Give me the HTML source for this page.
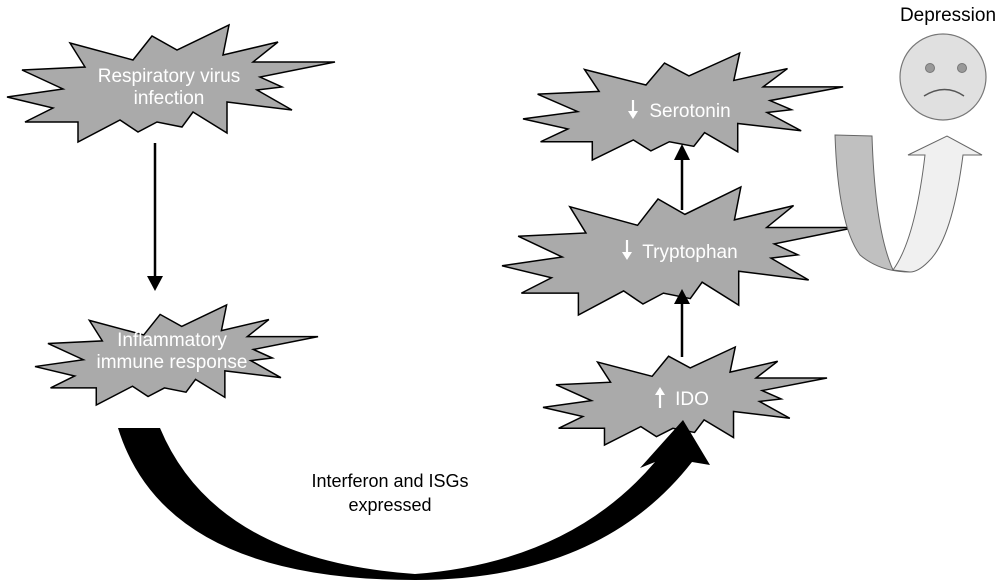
<!DOCTYPE html>
<html><head><style>
html,body{margin:0;padding:0;background:#fff;}
svg{display:block;font-family:"Liberation Sans",Arial,sans-serif;}
</style></head><body>
<svg width="1004" height="580" viewBox="0 0 1004 580">
<defs>
<polygon id="star" points="7,97 63,89 22,70 85,67 70,43 133,60 152,36 177,50 229,25 223,55 278,42 253,62 335,62 260,77 282,87 257,90 292,110 227,102 227,133 193,112 182,127 157,122 138,132 120,120 78,142 78,122 25,122 53,108" fill="#aaaaaa" stroke="#000" stroke-width="1.5" vector-effect="non-scaling-stroke"/>
</defs>
<use href="#star"/>
<use href="#star" transform="translate(35,305) scale(0.863,0.855) translate(-7,-25)"/>
<use href="#star" transform="translate(523,53) scale(0.976,0.915) translate(-7,-25)"/>
<use href="#star" transform="translate(502,187) scale(1.076,1.094) translate(-7,-25)"/>
<use href="#star" transform="translate(543,347) scale(0.866,0.838) translate(-7,-25)"/>

<g fill="#fff" font-size="19" text-anchor="middle">
<text x="169" y="82">Respiratory virus</text>
<text x="169" y="104">infection</text>
<text x="172" y="346">Inflammatory</text>
<text x="172" y="368">immune response</text>
<text x="690" y="117">Serotonin</text>
<text x="690" y="258">Tryptophan</text>
<text x="692" y="405">IDO</text>
</g>
<g stroke="#fff" stroke-width="2.2" fill="#fff">
<line x1="633" y1="100" x2="633" y2="114"/><polygon points="628,111 638,111 633,119" stroke="none"/>
<line x1="627" y1="240" x2="627" y2="255"/><polygon points="622,252 632,252 627,260" stroke="none"/>
<line x1="660" y1="392" x2="660" y2="408"/><polygon points="655,395 665,395 660,387" stroke="none"/>
</g>

<g stroke="#000" stroke-width="2.5">
<line x1="155" y1="143" x2="155" y2="278"/>
<line x1="682" y1="357" x2="682" y2="300"/>
<line x1="682" y1="210" x2="682" y2="157"/>
</g>
<g fill="#000">
<polygon points="147,276 163,276 155,291"/>
<polygon points="674,304 690,304 682,289"/>
<polygon points="674,160 690,160 682,144"/>
</g>

<path d="M118,428 L160,428 Q215,560 415,574 Q570,562 655,462 L640,468 L683,420 L710,465 L692,462 Q600,580 415,580 Q165,580 118,428 Z" fill="#000"/>
<g font-size="18" text-anchor="middle" fill="#000">
<text x="390" y="487">Interferon and ISGs</text>
<text x="390" y="511">expressed</text>
<text x="948" y="21" font-size="19">Depression</text>
</g>

<path d="M835,135 L872,136 Q875,230 893,270 L910,272 Q880,272 860,255 Q838,225 835,135 Z" fill="#c0c0c0" stroke="#666" stroke-width="1"/>
<path d="M893,270 Q915,240 925,155 L908,155 L947,136 L982,155 L963,155 Q952,240 928,262 Q918,272 910,272 Z" fill="#f0f0f0" stroke="#666" stroke-width="1"/>
<circle cx="943" cy="77" r="43" fill="#e0e0e0" stroke="#777" stroke-width="1.2"/>
<circle cx="930" cy="68" r="4.5" fill="#999" stroke="#777"/>
<circle cx="962" cy="68" r="4.5" fill="#999" stroke="#777"/>
<path d="M924,96 Q945,83 964,96" fill="none" stroke="#555" stroke-width="1.5"/>
</svg>
</body></html>
